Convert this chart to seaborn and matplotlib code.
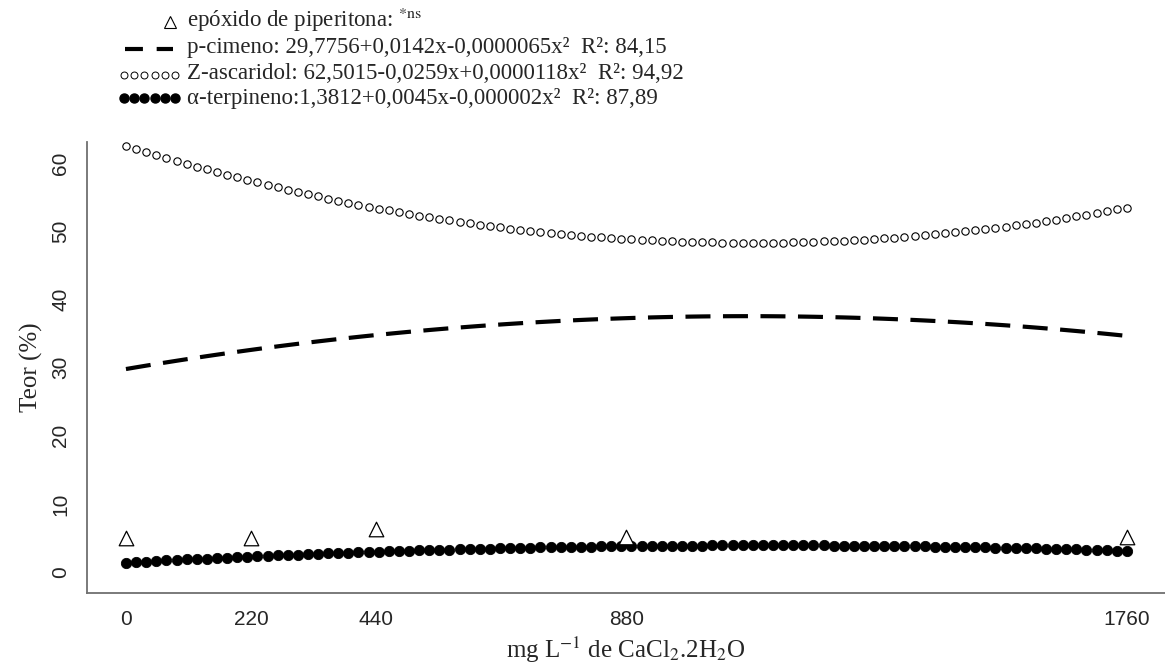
import numpy as np
import pandas as pd
import matplotlib
matplotlib.use("Agg")
import matplotlib.pyplot as plt
import seaborn as sns
from matplotlib.lines import Line2D

# ---- data ----
doses = [0, 220, 440, 880, 1760]
epoxido = [5.0, 5.0, 6.3, 5.1, 5.1]          # epóxido de piperitona (ns)

# fitted quadratics, coefficients as printed in the legend (b0, b1, b2)
coef_pcimeno = [29.7756, 0.0142, -0.0000065]
coef_zascaridol = [62.5015, -0.0259, 0.0000118]
coef_aterpineno = [1.3812, 0.0045, -0.000002]

labels = [
    r"epóxido de piperitona: $^{\mathrm{*ns}}$",
    "p-cimeno: 29,7756+0,0142x-0,0000065x²  R²: 84,15",
    "Z-ascaridol: 62,5015-0,0259x+0,0000118x²  R²: 94,92",
    "α-terpineno:1,3812+0,0045x-0,000002x²  R²: 87,89",
]

sns.set_style("white")
plt.rcParams["font.family"] = ["Liberation Serif", "DejaVu Serif"]
plt.rcParams["mathtext.fontset"] = "stix"

W, H = 1165, 670
x_grid = np.linspace(0, 1760, 100)
curves = pd.DataFrame({
    "x": x_grid,
    "pc": np.polyval(coef_pcimeno[::-1], x_grid),
    "za": np.polyval(coef_zascaridol[::-1], x_grid),
    "at": np.polyval(coef_aterpineno[::-1], x_grid),
})
pts = pd.DataFrame({"x": doses, "y": epoxido})

fig = plt.figure(figsize=(W / 100, H / 100), dpi=100)
ax = fig.add_axes([87 / W, 1 - 593 / H, 1 - 87 / W, (593 - 142) / H])

sns.lineplot(data=curves, x="x", y="pc", ax=ax, color="black", lw=3,
             linestyle=(0, (6, 3)))
sns.scatterplot(data=curves, x="x", y="za", ax=ax, marker="o", s=28,
                facecolor="white", edgecolor="black", linewidth=0.8)
sns.scatterplot(data=curves, x="x", y="at", ax=ax, marker="o", s=55,
                color="black", edgecolor="black", linewidth=0.6)
sns.scatterplot(data=pts, x="x", y="y", ax=ax, marker="^", s=110,
                facecolor="white", edgecolor="black", linewidth=0.9, zorder=5)

ax.set_xlim(-68.5, 1827)
ax.set_ylim(-3.08, 63.08)
ax.set_xticks(doses)
ax.set_yticks([0, 10, 20, 30, 40, 50, 60])
for s in ["top", "right"]:
    ax.spines[s].set_visible(False)
for s in ["left", "bottom"]:
    ax.spines[s].set_color("#707070")
    ax.spines[s].set_linewidth(1.3)
ax.tick_params(axis="both", direction="out", length=7, width=1, color="#333333",
               labelsize=15, pad=5)
for lab in ax.get_xticklabels() + ax.get_yticklabels():
    lab.set_family("Liberation Sans")
plt.setp(ax.get_yticklabels(), rotation=90, va="center")

ax.set_xlabel(r"mg L$^{-1}$ de CaCl$_2$.2H$_2$O", fontsize=18, labelpad=4)
ax.set_ylabel("Teor (%)", fontsize=18, labelpad=6)

# ---- legend drawn by hand above the plot (R style) ----
def fx(px):
    return px / W

def fy(py):
    return 1 - py / H

baselines = [27, 53, 79, 104]
for lab, b in zip(labels, baselines):
    fig.text(fx(187), fy(b), lab, fontsize=16.5, va="baseline", ha="left")

fig.add_artist(Line2D([fx(170)], [fy(22)], ls="none", marker="^", ms=8,
                      mfc="white", mec="black", mew=0.8))
fig.add_artist(Line2D([fx(125), fx(173)], [fy(49), fy(49)], color="black", lw=3,
                      linestyle=(0, (4.3, 3.3))))
hx = np.linspace(fx(124), fx(175), 6)
fig.add_artist(Line2D(hx, [fy(75)] * 6, ls="none", marker="o", ms=5,
                      mfc="white", mec="black", mew=0.7))
fig.add_artist(Line2D(hx, [fy(98)] * 6, ls="none", marker="o", ms=6.5,
                      mfc="black", mec="black"))

fig.savefig("out.png", dpi=100)
